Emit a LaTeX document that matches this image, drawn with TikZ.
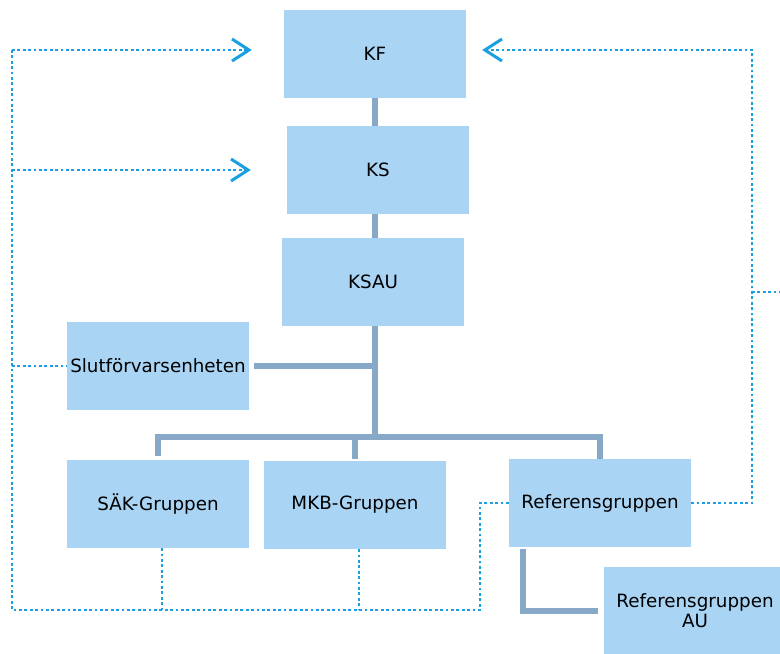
\documentclass[tikz,border=0pt]{standalone}
\usepackage{fontspec}
\setmainfont{DejaVu Sans}
\usetikzlibrary{arrows.meta}

\definecolor{boxblue}{HTML}{A9D4F4}
\definecolor{orggray}{HTML}{87A8C6}
\definecolor{relblue}{HTML}{1AA0E0}

\begin{document}
\begin{tikzpicture}[x=1pt,y=-1pt,
    >={Straight Barb[length=17pt,width=22pt,line width=3pt]},
    unit/.style={rectangle,fill=boxblue,minimum width=182pt,minimum height=88pt,
                 inner sep=0pt,align=center,font=\fontsize{18.3}{20}\selectfont},
    orgline/.style={draw=orggray,line width=6pt},
    relline/.style={draw=relblue,line width=2.8pt,dash pattern=on 2.8pt off 2.6pt}]
    \useasboundingbox (0,0) rectangle (780,654);

    \node[unit] (kf)    at (375,54)  {KF};
    \node[unit] (ks)    at (378,170) {KS};
    \node[unit] (ksau)  at (373,282) {KSAU};
    \node[unit] (slut)  at (158,366) {Slutförvarsenheten};
    \node[unit] (sak)   at (158,504) {SÄK-Gruppen};
    \node[unit] (mkb)   at (355,505) {MKB-Gruppen};
    \node[unit] (ref)   at (600,503) {Referensgruppen};
    \node[unit] (refau) at (695,611) {Referensgruppen\\AU};

    % line organisation
    \coordinate (hub) at (375,437);
    \draw[orgline] (kf.south) -- (kf.south |- ks.north);
    \draw[orgline] (ks.south -| hub) -- (ksau.north -| hub);
    \draw[orgline] (ksau.south -| hub) -- (hub);
    \draw[orgline] ([xshift=5pt]slut.east) -- (slut.east -| hub);
    \draw[orgline] ([yshift=4pt]sak.north) |- (ref.north |- hub) -- (ref.north);
    \draw[orgline] ([yshift=2pt]mkb.north) -- (mkb.north |- hub);
    \draw[orgline] ([xshift=-77pt,yshift=-2pt]ref.south) |- ([xshift=-6pt]refau.west);

    % reporting lines
    \coordinate (lt) at (12,50);
    \coordinate (lb) at (12,610);
    \coordinate (lk) at (480,610);
    \coordinate (rt) at (752,50);
    \coordinate (rm) at (752,292);
    \coordinate (rx) at (790,292);
    \draw[relline] (lt) -- (lb) -- (lk) |- (ref.west);
    \draw[relline,->,shorten >=32pt] (lt) -- (lt -| kf.west);
    \draw[relline,->,shorten >=36pt] (lb |- ks) -- (ks.west);
    \draw[relline] (lb |- slut.west) -- (slut.west);
    \draw[relline] ([xshift=4pt]sak.south) -- ([xshift=4pt]sak.south |- lb);
    \draw[relline] ([xshift=4pt]mkb.south) -- ([xshift=4pt]mkb.south |- lb);
    \draw[relline,->,shorten >=16pt] (ref.east) -| (rt) -- (rt -| kf.east);
    \draw[relline] (rm) -- (rx);
\end{tikzpicture}
\end{document}
